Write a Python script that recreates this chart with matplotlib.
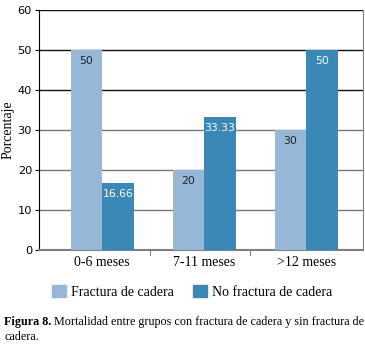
import numpy as np
import matplotlib
matplotlib.use("Agg")
import matplotlib.pyplot as plt
from matplotlib.patches import Patch

categories = ["0-6 meses", "7-11 meses", ">12 meses"]
fractura = [50, 20, 30]
no_fractura = [16.66, 33.33, 50]
labels_fractura = ["50", "20", "30"]
labels_no_fractura = ["16.66", "33.33", "50"]
yticks = [0, 10, 20, 30, 40, 50, 60]

light = "#96b8d6"
dark = "#3a88b6"
serif = "Liberation Serif"

fig = plt.figure(figsize=(3.65, 3.45), dpi=100)
ax = fig.add_axes([0.107, 0.275, 0.888, 0.696])

x = np.arange(len(categories))
w = 0.31
b1 = ax.bar(x - w / 2, fractura, w, color=light, zorder=3)
b2 = ax.bar(x + w / 2, no_fractura, w, color=dark, zorder=3)

for rect, lab in zip(b1, labels_fractura):
    ax.text(rect.get_x() + rect.get_width() / 2, rect.get_height() - 1.5, lab,
            ha="center", va="top", fontsize=7.8, color="#222222", zorder=4)
for rect, lab in zip(b2, labels_no_fractura):
    ax.text(rect.get_x() + rect.get_width() / 2, rect.get_height() - 1.5, lab,
            ha="center", va="top", fontsize=7.8, color="white", zorder=4)

ax.set_ylim(0, 60)
ax.set_xlim(-0.62, 2.56)
ax.set_yticks(yticks)
ax.tick_params(axis="y", labelsize=8.2, length=3, width=0.8, pad=2)
ax.set_xticks(x)
ax.set_xticklabels(categories, fontfamily=serif, fontsize=10)
ax.tick_params(axis="x", length=0, pad=4)
# small separator ticks between categories
for sep in [0.47, 1.45]:
    ax.plot([sep, sep], [0, -1.2], color="#808080", lw=0.8, clip_on=False)

ax.yaxis.grid(True, zorder=0)
for val, gl in zip(yticks, ax.get_ygridlines()):
    if val >= 40:
        gl.set_color("#111111")
    else:
        gl.set_color("#777777")
    gl.set_linewidth(1.0)

ax.spines["left"].set_color("black")
ax.spines["bottom"].set_color("#808080")
ax.spines["bottom"].set_linewidth(1.5)
ax.spines["right"].set_color("#808080")
ax.spines["top"].set_visible(False)

ax.set_ylabel("Porcentaje", fontfamily=serif, fontsize=10)
ax.yaxis.set_label_coords(-0.075, 0.5)

handles = [Patch(color=light), Patch(color=dark)]
fig.legend(handles, ["Fractura de cadera", "No fractura de cadera"],
           loc="center", bbox_to_anchor=(0.527, 0.155), ncol=2, frameon=False,
           prop={"family": serif, "size": 10}, handlelength=1.0, handleheight=1.0,
           handletextpad=0.35, columnspacing=1.4)

# caption: bold "Figura 8." followed by regular text
cap_size = 8.7
bold = fig.text(0.011, 0.067, "Figura 8.", fontsize=cap_size, fontfamily=serif,
                fontweight="bold", va="center")
renderer = fig.canvas.get_renderer()
bb = bold.get_window_extent(renderer=renderer)
x_rest = (bb.x1 + 3) / fig.bbox.width
fig.text(x_rest, 0.067,
         "Mortalidad entre grupos con fractura de cadera y sin fractura de",
         fontsize=cap_size, fontfamily=serif, va="center")
fig.text(0.011, 0.023, "cadera.", fontsize=cap_size, fontfamily=serif, va="center")

fig.savefig("out.png", dpi=100)
